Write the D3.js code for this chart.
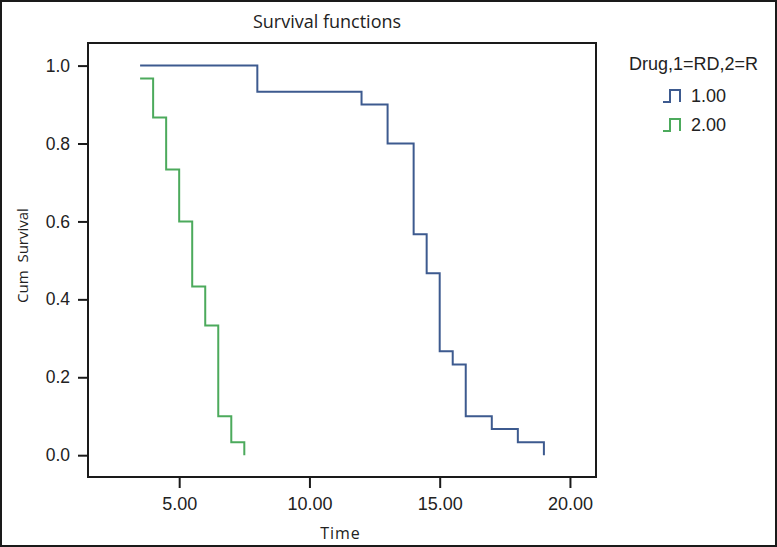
<!DOCTYPE html>
<html>
<head>
<meta charset="utf-8">
<script src="https://cdn.jsdelivr.net/npm/d3@7"></script>
<style>
  html, body { margin: 0; padding: 0; background: #fff; }
  svg { display: block; }
</style>
</head>
<body>
<svg id="chart" width="777" height="547"></svg>
<script>
// ---- data ----
const seriesNames = ["1.00", "2.00"];
const drug1Times = [3.5, 8, 12, 13, 14, 14.5, 15, 15.5, 16, 17, 18, 19];
const drug1Surv  = [1.0, 0.933, 0.9, 0.8, 0.567, 0.467, 0.267, 0.233, 0.1, 0.067, 0.033, 0];
const drug2Times = [3.5, 4, 4.5, 5, 5.5, 6, 6.5, 7, 7.5];
const drug2Surv  = [0.967, 0.867, 0.733, 0.6, 0.433, 0.333, 0.1, 0.033, 0];
const xTicks = [5, 10, 15, 20];
const yTicks = [0, 0.2, 0.4, 0.6, 0.8, 1.0];
const colors = ["#3d5a8f", "#4caa5c"];

const svg = d3.select("#chart");
const L = 88, R = 596, T = 43, B = 477;

const x = d3.scaleLinear().domain([1.5, 21.0]).range([L, R]);
const y = d3.scaleLinear().domain([-0.056, 1.058]).range([B, T]);

const sansA = "'Liberation Sans', Arial, sans-serif";
const sansB = "'Open Sans', 'Noto Sans', sans-serif";

// outer border
svg.append("rect").attr("x", 1).attr("y", 1).attr("width", 775).attr("height", 545)
  .attr("fill", "#fff").attr("stroke", "#1a1a1a").attr("stroke-width", 2);

// title
svg.append("text").attr("x", 327).attr("y", 27.5).attr("text-anchor", "middle")
  .attr("font-family", sansB).attr("font-size", 18).attr("fill", "#222")
  .text("Survival functions");

// series
const series = [
  {name: seriesNames[0], pts: drug1Times.map((t, i) => [t, drug1Surv[i]]), color: colors[0]},
  {name: seriesNames[1], pts: drug2Times.map((t, i) => [t, drug2Surv[i]]), color: colors[1]}
];
const line = d3.line().x(d => x(d[0])).y(d => y(d[1])).curve(d3.curveStepAfter);
series.forEach(s => {
  svg.append("path").attr("d", line(s.pts)).attr("fill", "none")
    .attr("stroke", s.color).attr("stroke-width", 2);
});

// frame
svg.append("rect").attr("x", L).attr("y", T).attr("width", R - L).attr("height", B - T)
  .attr("fill", "none").attr("stroke", "#1a1a1a").attr("stroke-width", 2);

// x axis
const xAxis = svg.append("g").attr("transform", `translate(0,${B})`)
  .call(d3.axisBottom(x).tickValues(xTicks).tickSize(11).tickPadding(9).tickFormat(d3.format(".2f")));
xAxis.select(".domain").remove();
xAxis.selectAll("line").attr("stroke", "#1a1a1a").attr("stroke-width", 2);
xAxis.selectAll("text").attr("font-family", sansA).attr("font-size", 18).attr("fill", "#222");

// y axis
const yAxis = svg.append("g").attr("transform", `translate(${L},0)`)
  .call(d3.axisLeft(y).tickValues(yTicks).tickSize(10).tickPadding(8).tickFormat(d3.format(".1f")));
yAxis.select(".domain").remove();
yAxis.selectAll("line").attr("stroke", "#1a1a1a").attr("stroke-width", 2);
yAxis.selectAll("text").attr("font-family", sansA).attr("font-size", 17.5).attr("fill", "#222");

// axis titles
svg.append("text").attr("x", 340.5).attr("y", 539).attr("text-anchor", "middle")
  .attr("font-family", sansB).attr("font-size", 16).attr("letter-spacing", 1).attr("fill", "#222")
  .text("Time");
svg.append("text").attr("transform", "translate(28,255.5) rotate(-90)").attr("text-anchor", "middle")
  .attr("font-family", sansB).attr("font-size", 15).attr("fill", "#222")
  .style("white-space", "pre")
  .text("Cum  Survival");

// legend
svg.append("text").attr("x", 629).attr("y", 69.5)
  .attr("font-family", sansA).attr("font-size", 18).attr("fill", "#222")
  .text("Drug,1=RD,2=R");
series.forEach((s, i) => {
  const by = 102 + i * 29;
  const sym = [[663, by], [670, by], [670, by - 12], [680, by - 12], [680, by]];
  svg.append("path").attr("d", d3.line()(sym)).attr("fill", "none")
    .attr("stroke", s.color).attr("stroke-width", 2);
  svg.append("text").attr("x", 691).attr("y", by)
    .attr("font-family", sansA).attr("font-size", 18).attr("fill", "#222")
    .text(s.name);
});
</script>
</body>
</html>
